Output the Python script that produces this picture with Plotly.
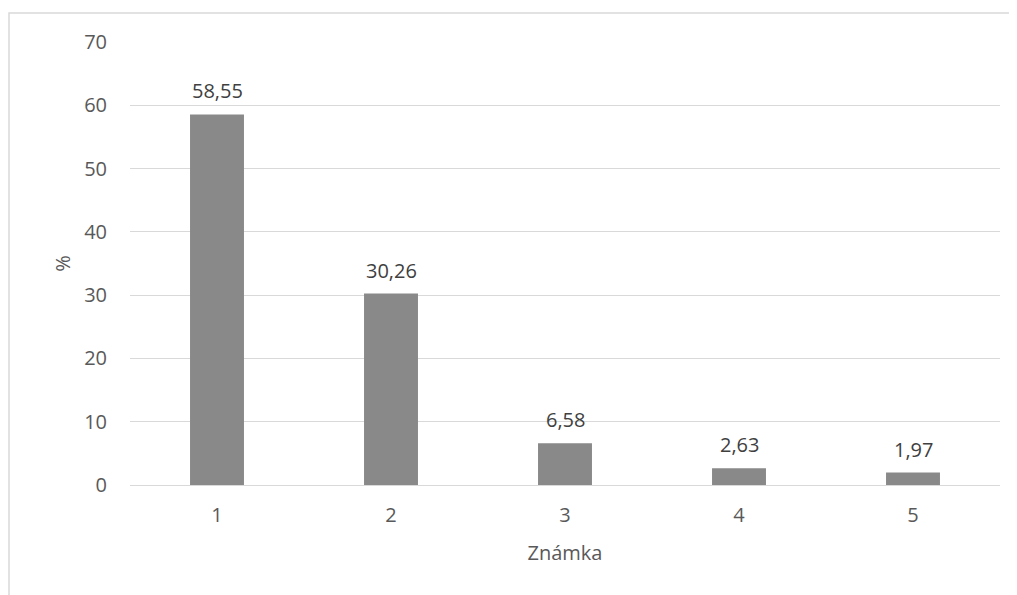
import plotly.graph_objects as go

categories = ["1", "2", "3", "4", "5"]
values = [58.55, 30.26, 6.58, 2.63, 1.97]
labels = ["58,55", "30,26", "6,58", "2,63", "1,97"]

# page body has an 8px default margin; figure is laid out to compensate
OFF = 8
W, H = 1017 - OFF, 595 - OFF
L, R, T, B = 130 - OFF, 17, 42 - OFF, 110
pw, ph = W - L - R, H - T - B

def px(x):
    return (x - OFF - L) / pw

def py(y):
    return (H - B - (y - OFF)) / ph

fig = go.Figure(go.Bar(
    x=categories, y=values,
    marker=dict(color="#898989", line=dict(width=0)),
))

# on a category axis annotations use the category's serial index
for i, (v, t) in enumerate(zip(values, labels)):
    fig.add_annotation(x=i, y=v, text=t, showarrow=False, yanchor="bottom",
                       yshift=8, font=dict(size=20, color="#404040"))

fig.update_layout(
    width=W, height=H, margin=dict(l=L, r=R, t=T, b=B),
    plot_bgcolor="white", paper_bgcolor="white",
    bargap=0.69, showlegend=False,
    font=dict(family="Open Sans", size=20, color="#595959"),
    xaxis=dict(type="category",
               title=dict(text="Známka", standoff=18, font=dict(size=20)),
               showgrid=False, showline=True, linecolor="#d9d9d9", linewidth=1,
               ticks="", ticklabelstandoff=12),
    yaxis=dict(title=dict(text="%", standoff=8, font=dict(size=20)),
               range=[0, 70], dtick=10, showgrid=True, gridcolor="#d9d9d9",
               zeroline=False, ticks="", ticklabelstandoff=22),
    shapes=[dict(type="rect", xref="paper", yref="paper",
                 x0=px(9), x1=px(1030), y0=py(610), y1=py(13),
                 line=dict(color="#d9d9d9", width=1.5), layer="below")],
)

fig.write_html("out.html")
